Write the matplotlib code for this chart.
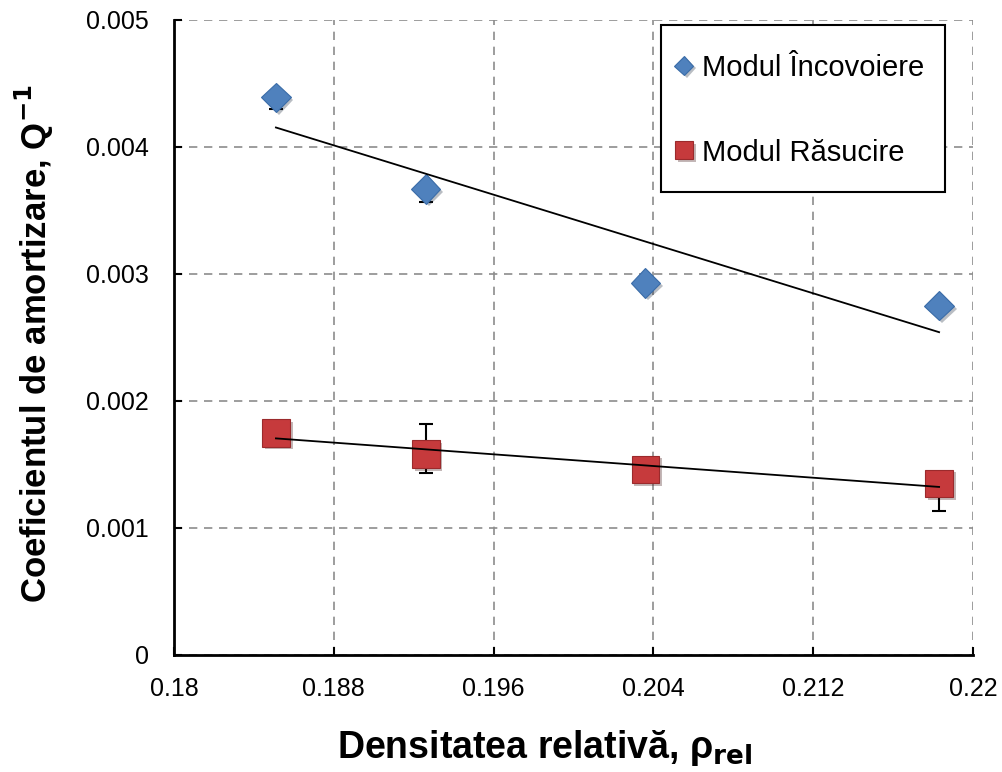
import numpy as np
import matplotlib
matplotlib.use('Agg')
import matplotlib.pyplot as plt
import matplotlib.patheffects as pe
from matplotlib.patches import Rectangle

plt.rcParams['font.family'] = ['Liberation Sans', 'DejaVu Sans']

# data
dens = [0.1851, 0.1926, 0.2036, 0.2183]
q_incov = [0.00439, 0.00367, 0.00293, 0.00275]
err_incov_lo = [0.00009, 0.0001, 0.00004, 0.00004]
err_incov_hi = [0.00004, 0.00004, 0.00004, 0.00004]
q_rasuc = [0.00175, 0.00158, 0.00146, 0.00135]
err_rasuc_lo = [0.00004, 0.00015, 0.00004, 0.00022]
err_rasuc_hi = [0.00004, 0.00024, 0.00004, 0.00004]

xticks = [0.18, 0.188, 0.196, 0.204, 0.212, 0.22]
yticks = [0, 0.001, 0.002, 0.003, 0.004, 0.005]

fig = plt.figure(figsize=(10.02, 7.72), dpi=100)
ax = fig.add_axes([0.1737, 0.1516, 0.7974, 0.8225])

shadow = [pe.SimplePatchShadow(offset=(2, -2), alpha=0.3), pe.Normal()]

ax.errorbar(dens, q_incov, yerr=[err_incov_lo, err_incov_hi], fmt='none', ecolor='black',
            elinewidth=1.5, capsize=5, capthick=1.5, zorder=3)
ax.errorbar(dens, q_rasuc, yerr=[err_rasuc_lo, err_rasuc_hi], fmt='none', ecolor='black',
            elinewidth=1.5, capsize=5, capthick=1.5, zorder=3)

l1, = ax.plot(dens, q_incov, 'D', ms=15, color='#4F81BD', mec='#3A6CA8', mew=0.8,
              zorder=4, label='Modul Încovoiere', path_effects=shadow)
l2, = ax.plot(dens, q_rasuc, 's', ms=20, color='#C63A3C', mec='#9B2A2C', mew=0.8,
              zorder=4, label='Modul Răsucire', path_effects=shadow)

# linear trendlines
xs = np.array([dens[0], dens[-1]])
for q in (q_incov, q_rasuc):
    k, b = np.polyfit(dens, q, 1)
    ax.plot(xs, k * xs + b, color='black', lw=1.3, zorder=5)

ax.set_xlim(0.18, 0.22)
ax.set_ylim(0, 0.005)
ax.set_xticks(xticks)
ax.set_xticklabels(['0.18', '0.188', '0.196', '0.204', '0.212', '0.22'])
ax.set_yticks(yticks)
ax.set_yticklabels(['0', '0.001', '0.002', '0.003', '0.004', '0.005'])
ax.tick_params(labelsize=18, direction='in', length=6, width=1.5)
ax.tick_params(axis='x', pad=16)
ax.tick_params(axis='y', pad=18)

ax.grid(True, linestyle=(0, (5, 4)), color='#8C8C8C', lw=1.2)
ax.set_axisbelow(True)
for s in ('top', 'right'):
    ax.spines[s].set_visible(False)
for s in ('left', 'bottom'):
    ax.spines[s].set_linewidth(2)

ax.set_xlabel('Densitatea relativă, ρ$_{\\mathbf{rel}}$', fontsize=27,
              fontweight='bold')
ax.xaxis.set_label_coords(0.464, -0.115)
ax.set_ylabel('Coeficientul de amortizare, Q$^{\\mathbf{-1}}$', fontsize=25,
              fontweight='bold')
ax.yaxis.set_label_coords(-0.148, 0.49)

# legend box drawn separately so the padding can match
ax.add_patch(Rectangle((0.6095, 0.729), 0.3555, 0.263, transform=ax.transAxes,
                       facecolor='white', edgecolor='black', lw=1.5, zorder=6))
leg = ax.legend(handles=[l1, l2], loc='center left', bbox_to_anchor=(0.628, 0.858),
                fontsize=21, frameon=False, handlelength=0.55, handletextpad=0.35,
                borderpad=0, labelspacing=1.95, markerscale=0.65, borderaxespad=0)
leg.set_zorder(7)

fig.savefig('out.png', dpi=100)
